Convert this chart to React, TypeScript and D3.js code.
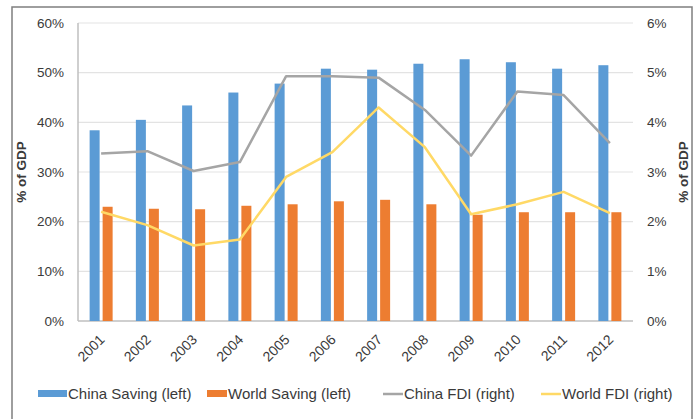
import React from "react";
import * as d3 from "d3";

const years = ["2001", "2002", "2003", "2004", "2005", "2006", "2007", "2008", "2009", "2010", "2011", "2012"];
const chinaSaving = [38.4, 40.5, 43.4, 46.0, 47.8, 50.8, 50.6, 51.8, 52.7, 52.1, 50.8, 51.5];
const worldSaving = [23.0, 22.6, 22.5, 23.2, 23.5, 24.1, 24.4, 23.5, 21.4, 21.9, 21.9, 21.9];
const chinaFDI = [3.37, 3.42, 3.02, 3.2, 4.93, 4.93, 4.9, 4.25, 3.33, 4.62, 4.55, 3.58];
const worldFDI = [2.2, 1.93, 1.52, 1.64, 2.9, 3.4, 4.3, 3.5, 2.15, 2.35, 2.6, 2.17];
const leftTicks = [0, 10, 20, 30, 40, 50, 60];
const rightTicks = [0, 1, 2, 3, 4, 5, 6];

const W = 698;
const H = 419;
const plot = { left: 78, right: 633, top: 23, bottom: 321 };
const FONT = "'Liberation Sans', Arial, sans-serif";
const C = { blue: "#5B9BD5", orange: "#ED7D31", gray: "#A5A5A5", yellow: "#FFD966", text: "#3a3a3a" };

export default function App() {
  const x = d3.scaleBand().domain(years).range([plot.left, plot.right]);
  const yL = d3.scaleLinear().domain([0, 60]).range([plot.bottom, plot.top]);
  const yR = d3.scaleLinear().domain([0, 6]).range([plot.bottom, plot.top]);
  const barW = 10;
  const gap = 3;
  const cx = (y: string) => (x(y) as number) + x.bandwidth() / 2;

  const lineGen = (vals: number[]) =>
    d3
      .line<number>()
      .x((_, i) => cx(years[i]))
      .y((v) => yR(v))(vals) as string;

  const legend = [
    { label: "China Saving (left)", color: C.blue, type: "bar", x: 38, sw: 29 },
    { label: "World Saving (left)", color: C.orange, type: "bar", x: 207, sw: 20 },
    { label: "China FDI (right)", color: C.gray, type: "line", x: 383, sw: 20 },
    { label: "World FDI (right)", color: C.yellow, type: "line", x: 541, sw: 20 },
  ];
  const legendY = 394;

  return (
    <svg
      width={W}
      height={H}
      style={{ position: "absolute", left: 0, top: 0, background: "#fff" }}
      fontFamily={FONT}
    >
      <rect x={12} y={7} width={680} height={H} fill="#fff" stroke="#7f7f7f" strokeWidth={1.5} />

      {/* gridlines */}
      {leftTicks.map((t) => (
        <line
          key={t}
          x1={plot.left}
          x2={plot.right}
          y1={yL(t)}
          y2={yL(t)}
          stroke={t === 0 ? "#BFBFBF" : "#E3E3E3"}
          strokeWidth={t === 0 ? 1.5 : 1.2}
        />
      ))}
      <line x1={plot.left} x2={plot.left} y1={plot.top} y2={plot.bottom} stroke="#BFBFBF" strokeWidth={1.5} />

      {/* bars */}
      {years.map((y, i) => (
        <g key={y}>
          <rect
            x={cx(y) - gap / 2 - barW}
            y={yL(chinaSaving[i])}
            width={barW}
            height={plot.bottom - yL(chinaSaving[i])}
            fill={C.blue}
          />
          <rect
            x={cx(y) + gap / 2}
            y={yL(worldSaving[i])}
            width={barW}
            height={plot.bottom - yL(worldSaving[i])}
            fill={C.orange}
          />
        </g>
      ))}

      {/* lines */}
      <path d={lineGen(chinaFDI)} fill="none" stroke={C.gray} strokeWidth={2.5} strokeLinejoin="round" />
      <path d={lineGen(worldFDI)} fill="none" stroke={C.yellow} strokeWidth={2.5} strokeLinejoin="round" />

      {/* left axis labels */}
      {leftTicks.map((t) => (
        <text key={t} x={64} y={yL(t)} dy="0.35em" textAnchor="end" fontSize={13.5} fill={C.text}>
          {t}%
        </text>
      ))}
      {/* right axis labels */}
      {rightTicks.map((t) => (
        <text key={t} x={647} y={yR(t)} dy="0.35em" textAnchor="start" fontSize={13.5} fill={C.text}>
          {t}%
        </text>
      ))}

      {/* category labels */}
      {years.map((y) => (
        <text
          key={y}
          transform={`translate(${cx(y) + 1},${plot.bottom + 16}) rotate(-45)`}
          textAnchor="end"
          dy="0.35em"
          fontSize={14}
          fill={C.text}
        >
          {y}
        </text>
      ))}

      {/* axis titles */}
      <text
        transform={`translate(26,${(plot.top + plot.bottom) / 2}) rotate(-90)`}
        textAnchor="middle"
        fontSize={13.5}
        fontWeight="bold"
        fill={C.text}
      >
        % of GDP
      </text>
      <text
        transform={`translate(688,${(plot.top + plot.bottom) / 2}) rotate(-90)`}
        textAnchor="middle"
        fontSize={13.5}
        fontWeight="bold"
        fill={C.text}
      >
        % of GDP
      </text>

      {/* legend */}
      {legend.map((l) => (
        <g key={l.label}>
          {l.type === "bar" ? (
            <rect x={l.x} y={legendY - 4} width={l.sw} height={7} fill={l.color} />
          ) : (
            <line x1={l.x} x2={l.x + l.sw} y1={legendY} y2={legendY} stroke={l.color} strokeWidth={2.5} />
          )}
          <text x={l.x + l.sw + 1} y={legendY} dy="0.35em" fontSize={15} fill={C.text}>
            {l.label}
          </text>
        </g>
      ))}
    </svg>
  );
}
